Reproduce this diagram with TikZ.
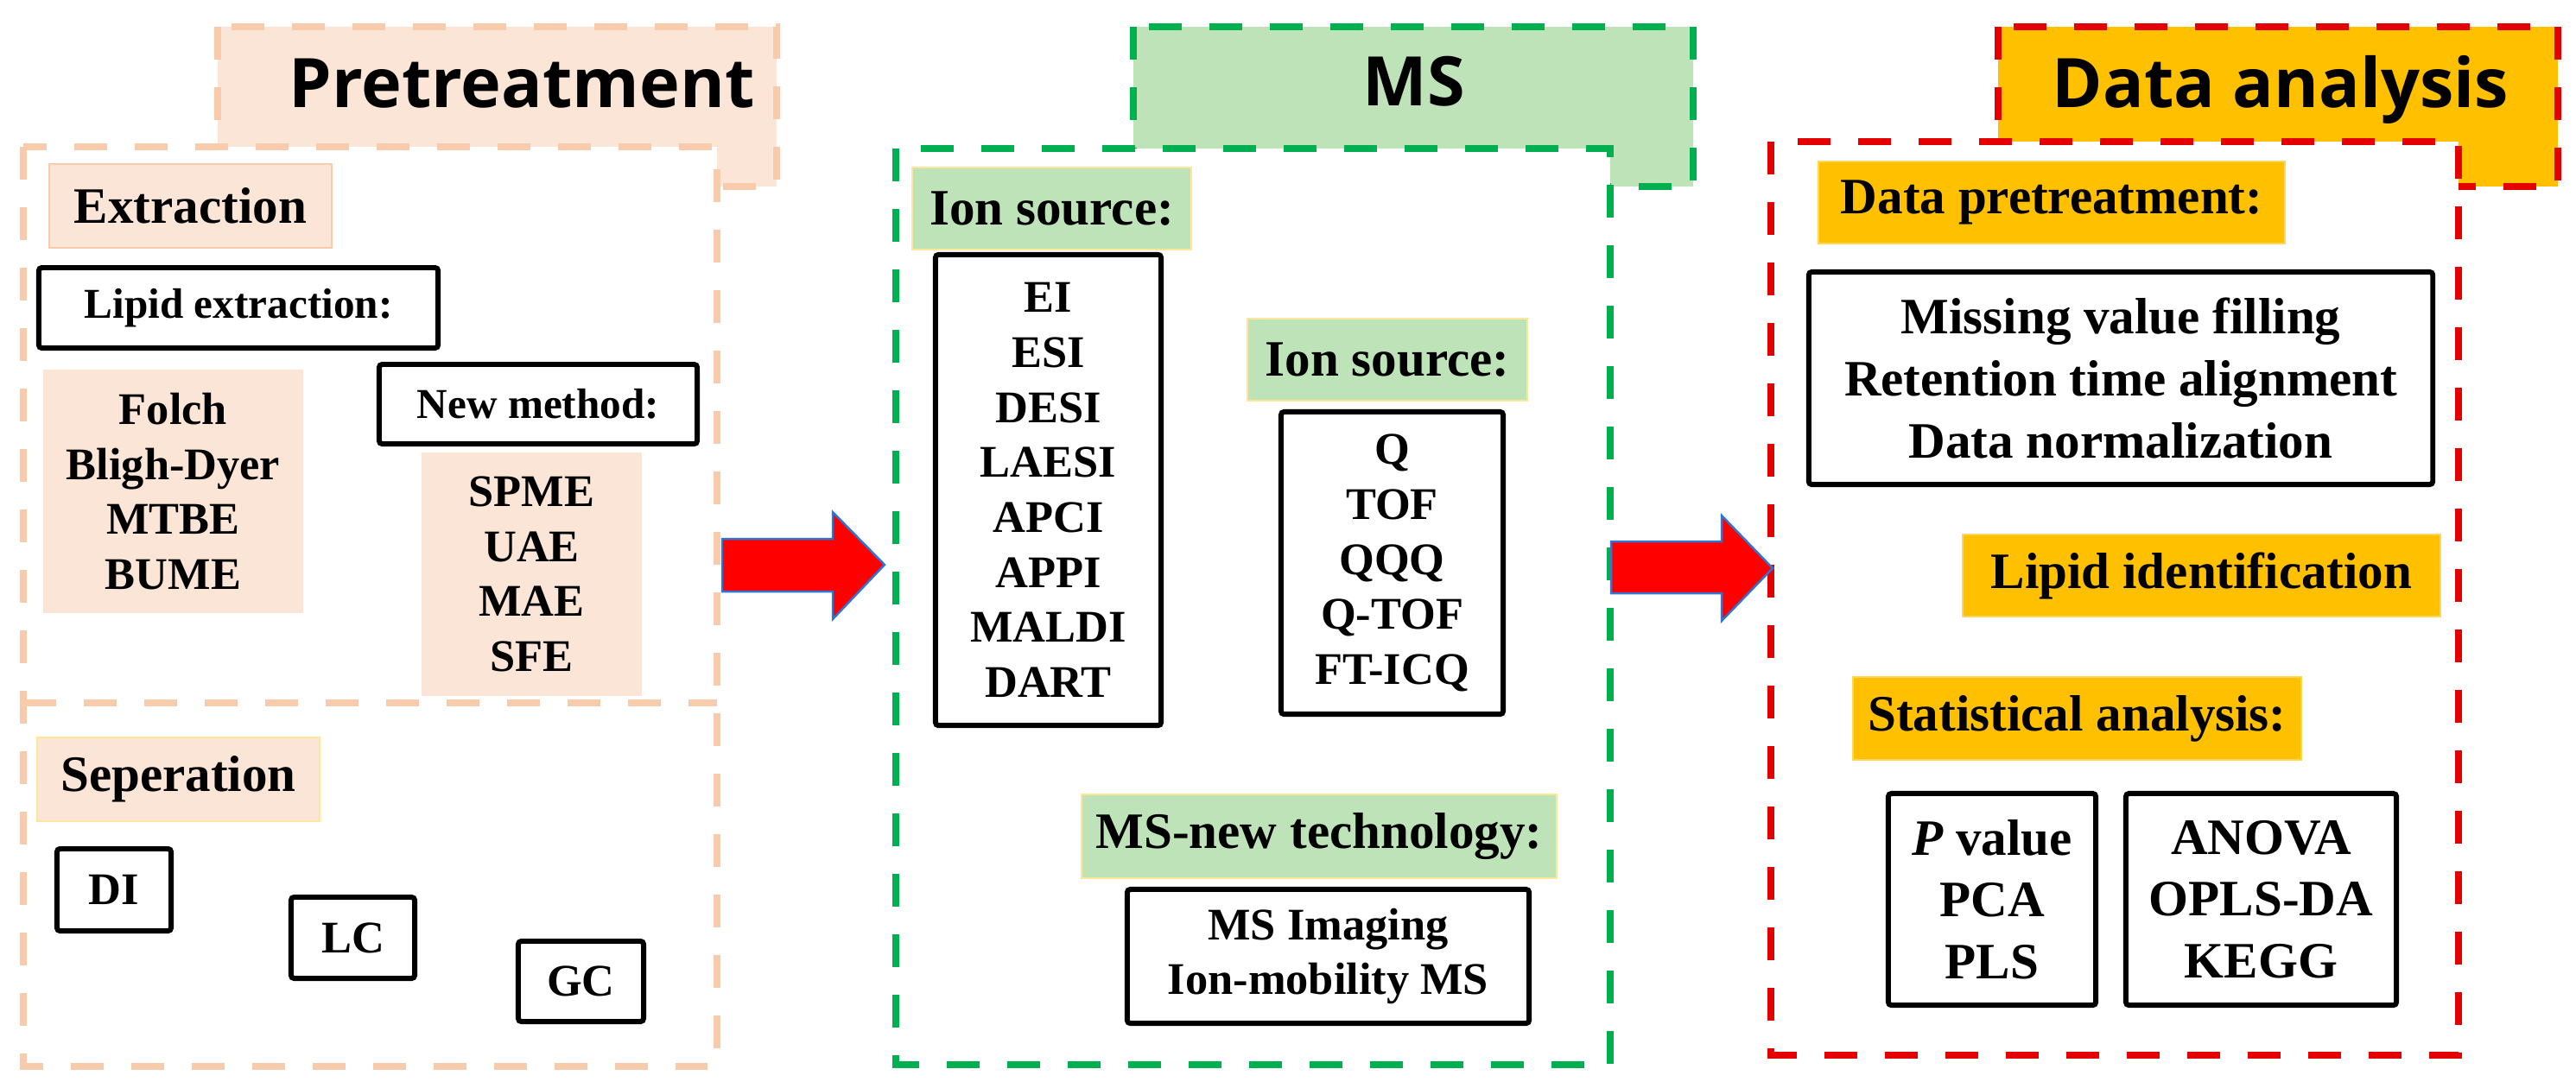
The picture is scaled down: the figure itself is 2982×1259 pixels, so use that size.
\documentclass[tikz,border=0pt]{standalone}
\usepackage{fontspec}
\setmainfont{Liberation Serif}
\newfontfamily\titlefont{Open Sans}
\usetikzlibrary{positioning}

\definecolor{peach}{RGB}{251,229,214}
\definecolor{peachdash}{RGB}{248,203,173}
\definecolor{paleyellow}{RGB}{255,230,153}
\definecolor{mintgreen}{RGB}{190,227,185}
\definecolor{msgreen}{RGB}{0,176,80}
\definecolor{gold}{RGB}{255,192,0}
\definecolor{goldedge}{RGB}{255,214,90}
\definecolor{dared}{RGB}{228,0,0}
\definecolor{arrowblue}{RGB}{46,117,214}

\tikzset{
x=0.01cm, y=-0.01cm, % one unit is one pixel of the sketch, y runs down
stepframe/.style={line width=2.3pt, dash pattern=on 10.8pt off 9.1pt}, % dashed frame round each step
steptitle/.style={anchor=base, font=\titlefont\bfseries\fontsize{22.5}{27}\selectfont}, % big step names
bigtext/.style={font=\bfseries\fontsize{16.8}{20.4}\selectfont}, % larger Times text
smalltext/.style={font=\bfseries\fontsize{14.9}{18.1}\selectfont}, % smaller Times text
headtag/.style={bigtext, inner sep=0pt, line width=0.6pt}, % coloured headings
peachtag/.style={headtag, fill=peach, draw=peachdash},
greentag/.style={headtag, fill=mintgreen, draw=paleyellow},
goldtag/.style={headtag, fill=gold, draw=goldedge},
peachlist/.style={smalltext, fill=peach, inner sep=0pt, align=center}, % filled lists, no border
listbox/.style={smalltext, draw, line width=1.7pt, rounded corners=1pt, inner sep=0pt, align=center}, % black boxes
subhead/.style={listbox, font=\bfseries\fontsize{14}{17}\selectfont}, % black boxed headings
bigarrow/.style={fill=red, draw=arrowblue, line width=0.7pt}, % block arrows between steps
}

\begin{document}
\begin{tikzpicture}
  \useasboundingbox (0,0) rectangle (2982,1259);

  % Pretreatment
  \draw[stepframe, draw=peachdash, fill=peach] (252,31) rectangle (899,216);
  \draw[stepframe, draw=peachdash, fill=white] (27,170) rectangle (830,1235);
  \draw[stepframe, draw=peachdash] (27,814) -- (830,814);
  \node[steptitle] (pre) at (604,124) {Pretreatment};

  \node[peachtag, minimum width=3.27cm, minimum height=0.97cm] (extr) at (220.5,238.5) {Extraction};
  \node[subhead, minimum width=4.62cm, minimum height=0.93cm] (lipid) at (276,356.5) {Lipid extraction:};
  \node[peachlist, minimum width=3.01cm, minimum height=2.82cm] (classic) at (200.5,569) {Folch\\Bligh-Dyer\\MTBE\\BUME};
  \node[subhead, minimum width=3.68cm, minimum height=0.92cm] (newm) at (623,468) {New method:};
  \node[peachlist, minimum width=2.55cm, minimum height=2.82cm] (novel) at (615.5,665) {SPME\\UAE\\MAE\\SFE};

  \node[peachtag, draw=paleyellow, minimum width=3.27cm, minimum height=0.97cm] (sep) at (206.5,902.5) {Seperation};
  \node[listbox, minimum width=1.32cm, minimum height=0.95cm] (di) at (132,1030.5) {DI};
  \node[listbox, minimum width=1.43cm, minimum height=0.94cm] (lc) at (408.5,1086) {LC};
  \node[listbox, minimum width=1.45cm, minimum height=0.93cm] (gc) at (672.5,1136.5) {GC};

  % MS
  \draw[stepframe, draw=msgreen, fill=mintgreen] (1312,31) rectangle (1960,216);
  \draw[stepframe, draw=msgreen, fill=white] (1037,172) rectangle (1864,1233);
  \node[steptitle] (ms) at (1637,122) {MS};

  \node[greentag, minimum width=3.23cm, minimum height=0.95cm] (ion) at (1217.5,241.5) {Ion source:};
  \node[listbox, minimum width=2.61cm, minimum height=5.45cm] (ionlist) at (1213.5,567.5) {EI\\ESI\\DESI\\LAESI\\APCI\\APPI\\MALDI\\DART};
  \node[greentag, minimum width=3.24cm, minimum height=0.95cm] (ana) at (1606,416.5) {Ion source:};
  \node[listbox, minimum width=2.57cm, minimum height=3.5cm] (analist) at (1611.5,652) {Q\\TOF\\QQQ\\Q-TOF\\FT-ICQ};
  \node[greentag, minimum width=5.5cm, minimum height=0.97cm] (newtech) at (1527,968.5) {MS-new technology:};
  \node[listbox, minimum width=4.65cm, minimum height=1.55cm] (techlist) at (1537.5,1107.5) {MS Imaging\\Ion-mobility MS};

  % Data analysis
  \draw[stepframe, draw=dared, fill=gold] (2313,31) rectangle (2961,216);
  \draw[stepframe, draw=dared, fill=white] (2050,164) rectangle (2846,1222);
  \node[steptitle] (da) at (2640,124) {Data analysis};

  \node[goldtag, minimum width=5.4cm, minimum height=0.95cm] (dpre) at (2375,234.5) {Data pretreatment:};
  \node[listbox, bigtext, minimum width=7.22cm, minimum height=2.46cm] (dprelist) at (2455,438) {Missing value filling\\Retention time alignment\\Data normalization};
  \node[goldtag, minimum width=5.53cm, minimum height=0.95cm] (lipidid) at (2548.5,666.5) {Lipid identification};
  \node[goldtag, minimum width=5.19cm, minimum height=0.96cm] (stat) at (2404.5,832) {Statistical analysis:};
  \node[listbox, bigtext, minimum width=2.4cm, minimum height=2.45cm] (statA) at (2306,1041.5) {\textit{P} value\\PCA\\PLS};
  \node[listbox, bigtext, minimum width=3.13cm, minimum height=2.45cm] (statB) at (2617.5,1041.5) {ANOVA\\OPLS-DA\\KEGG};

  % Arrows
  \draw[bigarrow] (836,624) -- (964,624) -- (964,593) -- (1024,654) -- (964,717) -- (964,685) -- (836,685) -- cycle;
  \draw[bigarrow] (1865,627) -- (1993,627) -- (1993,597) -- (2052,658) -- (1993,719) -- (1993,687) -- (1865,687) -- cycle;
\end{tikzpicture}
\end{document}
